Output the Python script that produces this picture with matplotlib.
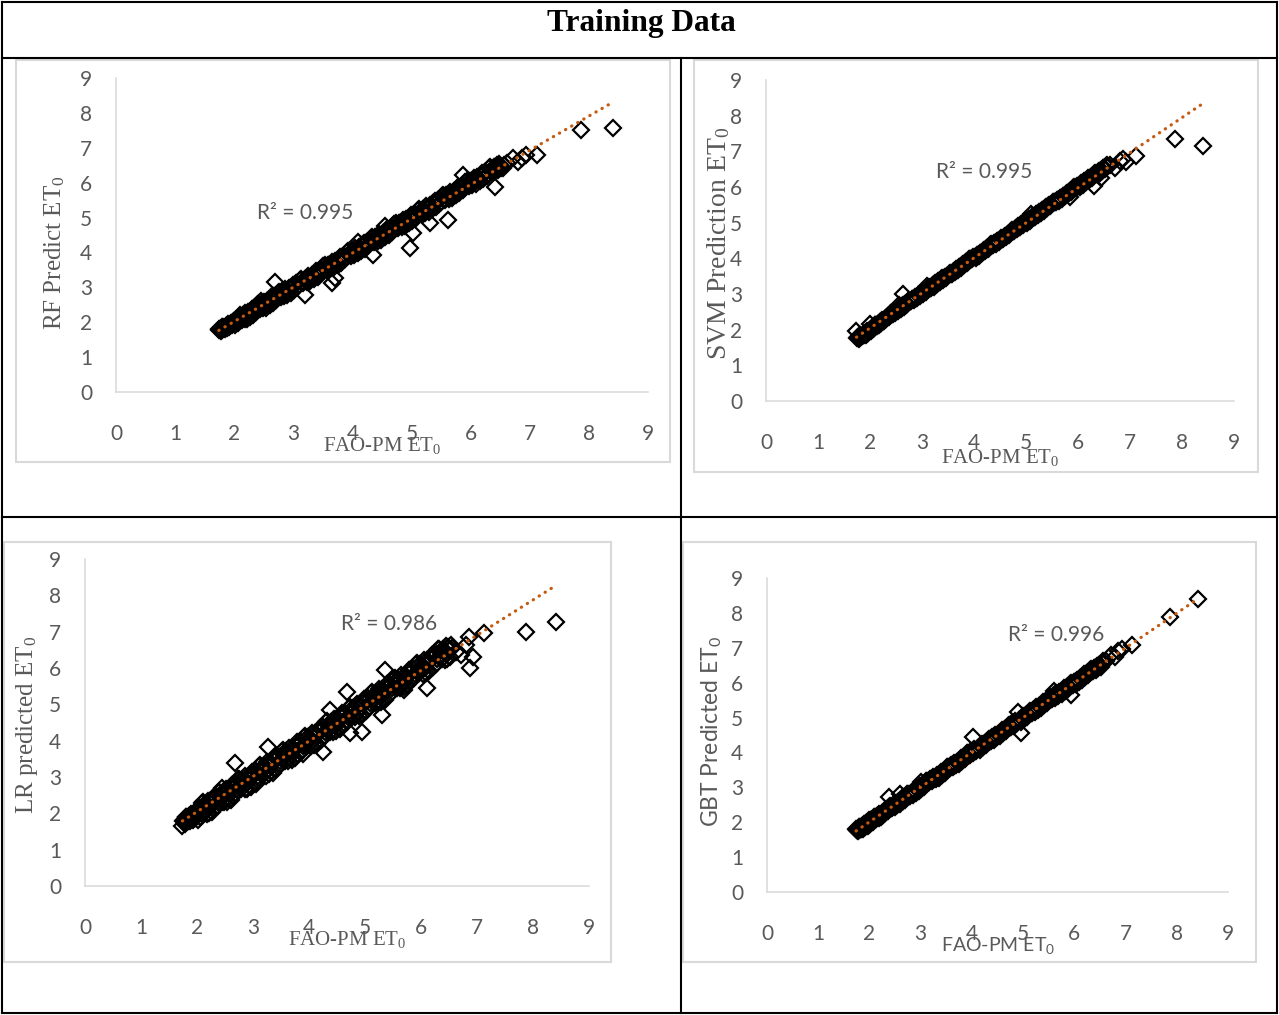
import matplotlib
matplotlib.use("Agg")
import matplotlib.pyplot as plt
import numpy as np
from matplotlib.patches import Rectangle

# ---------------- data ----------------
# FAO-PM ET0 (observed) – main band, shared by all models (two interleaved sets)
x_main = [
    1.74, 1.76, 1.79, 1.81, 1.84, 1.87, 1.90, 1.92, 1.95, 1.98,
    2.01, 2.04, 2.07, 2.10, 2.13, 2.16, 2.19, 2.22, 2.25, 2.28,
    2.31, 2.34, 2.37, 2.40, 2.44, 2.47, 2.51, 2.54, 2.58, 2.61,
    2.65, 2.68, 2.72, 2.75, 2.79, 2.83, 2.86, 2.90, 2.94, 2.97,
    3.01, 3.05, 3.09, 3.13, 3.17, 3.21, 3.25, 3.29, 3.33, 3.37,
    3.41, 3.45, 3.49, 3.53, 3.57, 3.61, 3.65, 3.69, 3.73, 3.77,
    3.81, 3.85, 3.89, 3.93, 3.97, 4.01, 4.05, 4.09, 4.13, 4.17,
    4.21, 4.25, 4.29, 4.33, 4.37, 4.41, 4.45, 4.49, 4.53, 4.57,
    4.61, 4.65, 4.69, 4.73, 4.77, 4.81, 4.85, 4.89, 4.93, 4.97,
    5.01, 5.05, 5.09, 5.13, 5.17, 5.21, 5.25, 5.29, 5.33, 5.37,
    5.41, 5.45, 5.49, 5.53, 5.57, 5.61, 5.65, 5.69, 5.73, 5.77,
    5.81, 5.85, 5.89, 5.93, 5.97, 6.01, 6.05, 6.09, 6.13, 6.17,
    6.21, 6.25, 6.29, 6.33, 6.37, 6.41, 6.44, 6.47, 6.50, 6.54,
]
x_mid = [
    1.75, 1.78, 1.80, 1.83, 1.86, 1.88, 1.91, 1.94, 1.97, 2.00,
    2.03, 2.06, 2.09, 2.12, 2.15, 2.18, 2.21, 2.24, 2.27, 2.30,
    2.33, 2.36, 2.39, 2.42, 2.46, 2.49, 2.53, 2.56, 2.60, 2.63,
    2.67, 2.70, 2.74, 2.77, 2.81, 2.85, 2.88, 2.92, 2.96, 2.99,
    3.03, 3.07, 3.11, 3.15, 3.19, 3.23, 3.27, 3.31, 3.35, 3.39,
    3.43, 3.47, 3.51, 3.55, 3.59, 3.63, 3.67, 3.71, 3.75, 3.79,
    3.83, 3.87, 3.91, 3.95, 3.99, 4.03, 4.07, 4.11, 4.15, 4.19,
    4.23, 4.27, 4.31, 4.35, 4.39, 4.43, 4.47, 4.51, 4.55, 4.59,
    4.63, 4.67, 4.71, 4.75, 4.79, 4.83, 4.87, 4.91, 4.95, 4.99,
    5.03, 5.07, 5.11, 5.15, 5.19, 5.23, 5.27, 5.31, 5.35, 5.39,
    5.43, 5.47, 5.51, 5.55, 5.59, 5.63, 5.67, 5.71, 5.75, 5.79,
    5.83, 5.87, 5.91, 5.95, 5.99, 6.03, 6.07, 6.11, 6.15, 6.19,
    6.23, 6.27, 6.31, 6.35, 6.39, 6.42, 6.45, 6.48, 6.52, 6.56,
]
x_high = [6.62, 6.72, 6.80, 6.86, 6.93, 7.12, 7.87, 8.41]

rf_main = [
    1.80, 1.80, 1.78, 1.86, 1.81, 1.88, 1.94, 1.87, 1.95, 2.01,
    1.91, 2.10, 2.04, 2.21, 2.07, 2.18, 2.27, 2.10, 2.25, 2.33,
    2.21, 2.40, 2.34, 2.51, 2.38, 2.49, 2.59, 2.42, 2.58, 2.66,
    2.55, 2.74, 2.69, 2.86, 2.73, 2.85, 2.94, 2.78, 2.94, 3.02,
    2.91, 3.11, 3.06, 3.24, 3.11, 3.23, 3.33, 3.17, 3.33, 3.42,
    3.31, 3.51, 3.46, 3.64, 3.51, 3.63, 3.73, 3.57, 3.73, 3.82,
    3.71, 3.91, 3.86, 4.04, 3.91, 4.03, 4.13, 3.97, 4.13, 4.22,
    4.11, 4.31, 4.26, 4.44, 4.31, 4.43, 4.53, 4.37, 4.53, 4.62,
    4.51, 4.71, 4.66, 4.84, 4.71, 4.83, 4.93, 4.77, 4.93, 5.02,
    4.91, 5.11, 5.06, 5.24, 5.11, 5.23, 5.33, 5.17, 5.33, 5.42,
    5.31, 5.51, 5.46, 5.64, 5.51, 5.63, 5.73, 5.57, 5.73, 5.82,
    5.71, 5.91, 5.86, 6.04, 5.91, 6.03, 6.13, 5.97, 6.13, 6.22,
    6.11, 6.31, 6.26, 6.44, 6.31, 6.43, 6.50, 6.35, 6.47, 6.42,
]
rf_mid = [
    1.77, 1.76, 1.85, 1.83, 1.89, 1.83, 1.89, 1.97, 1.92, 2.04,
    2.06, 1.99, 2.19, 2.11, 2.21, 2.09, 2.18, 2.29, 2.16, 2.38,
    2.36, 2.29, 2.49, 2.41, 2.52, 2.40, 2.50, 2.61, 2.49, 2.71,
    2.70, 2.63, 2.84, 2.76, 2.87, 2.76, 2.85, 2.97, 2.85, 3.07,
    3.06, 3.00, 3.21, 3.14, 3.25, 3.14, 3.24, 3.36, 3.24, 3.47,
    3.46, 3.40, 3.61, 3.54, 3.65, 3.54, 3.64, 3.76, 3.64, 3.87,
    3.86, 3.80, 4.01, 3.94, 4.05, 3.94, 4.04, 4.16, 4.04, 4.27,
    4.26, 4.20, 4.41, 4.34, 4.45, 4.34, 4.44, 4.56, 4.44, 4.67,
    4.66, 4.60, 4.81, 4.74, 4.85, 4.74, 4.84, 4.96, 4.84, 5.07,
    5.06, 5.00, 5.21, 5.14, 5.25, 5.14, 5.24, 5.36, 5.24, 5.47,
    5.46, 5.40, 5.61, 5.54, 5.65, 5.54, 5.64, 5.76, 5.64, 5.87,
    5.86, 5.80, 6.01, 5.94, 6.05, 5.94, 6.04, 6.16, 6.04, 6.27,
    6.26, 6.20, 6.41, 6.34, 6.45, 6.33, 6.42, 6.53, 6.41, 6.50,
]
rf_high = [6.55, 6.70, 6.58, 6.72, 6.80, 6.78, 7.52, 7.58]
rf_dev_x = [2.69, 3.20, 3.65, 3.70, 4.35, 4.55, 4.97, 5.03, 5.31, 5.62, 5.87, 6.41, 2.45, 4.10]
rf_dev_y = [3.15, 2.78, 3.12, 3.28, 3.93, 4.75, 4.13, 4.55, 4.84, 4.93, 6.22, 5.87, 2.60, 4.30]

svm_main = [
    1.95, 1.80, 1.80, 1.84, 1.82, 1.86, 1.90, 1.86, 1.93, 1.96,
    1.96, 2.04, 2.04, 2.12, 2.10, 2.17, 2.22, 2.18, 2.25, 2.30,
    2.30, 2.38, 2.38, 2.46, 2.44, 2.50, 2.56, 2.52, 2.60, 2.65,
    2.64, 2.72, 2.73, 2.81, 2.79, 2.86, 2.91, 2.88, 2.96, 3.01,
    3.00, 3.09, 3.10, 3.19, 3.17, 3.24, 3.30, 3.27, 3.35, 3.41,
    3.40, 3.49, 3.50, 3.59, 3.57, 3.64, 3.70, 3.67, 3.75, 3.81,
    3.80, 3.89, 3.90, 3.99, 3.97, 4.04, 4.10, 4.07, 4.15, 4.21,
    4.20, 4.29, 4.30, 4.39, 4.37, 4.44, 4.50, 4.47, 4.55, 4.61,
    4.60, 4.69, 4.70, 4.79, 4.77, 4.84, 4.90, 4.87, 4.95, 5.01,
    5.00, 5.09, 5.10, 5.19, 5.17, 5.24, 5.30, 5.27, 5.35, 5.41,
    5.40, 5.49, 5.50, 5.59, 5.57, 5.64, 5.70, 5.67, 5.75, 5.81,
    5.80, 5.89, 5.90, 5.99, 5.97, 6.04, 6.10, 6.07, 6.15, 6.21,
    6.20, 6.29, 6.30, 6.39, 6.37, 6.44, 6.49, 6.45, 6.52, 6.58,
]
svm_mid = [
    1.76, 1.75, 1.82, 1.81, 1.86, 1.84, 1.88, 1.95, 1.92, 2.00,
    2.04, 2.03, 2.13, 2.12, 2.17, 2.14, 2.20, 2.27, 2.24, 2.33,
    2.36, 2.35, 2.45, 2.44, 2.50, 2.47, 2.54, 2.61, 2.59, 2.68,
    2.70, 2.69, 2.80, 2.79, 2.85, 2.83, 2.89, 2.97, 2.95, 3.04,
    3.06, 3.06, 3.17, 3.17, 3.23, 3.21, 3.28, 3.36, 3.34, 3.44,
    3.46, 3.46, 3.57, 3.57, 3.63, 3.61, 3.68, 3.76, 3.74, 3.84,
    3.86, 3.86, 3.97, 3.97, 4.03, 4.01, 4.08, 4.16, 4.14, 4.24,
    4.26, 4.26, 4.37, 4.37, 4.43, 4.41, 4.48, 4.56, 4.54, 4.64,
    4.66, 4.66, 4.77, 4.77, 4.83, 4.81, 4.88, 4.96, 4.94, 5.04,
    5.06, 5.06, 5.17, 5.17, 5.23, 5.21, 5.28, 5.36, 5.34, 5.44,
    5.46, 5.46, 5.57, 5.57, 5.63, 5.61, 5.68, 5.76, 5.74, 5.84,
    5.86, 5.86, 5.97, 5.97, 6.03, 6.01, 6.08, 6.16, 6.14, 6.24,
    6.26, 6.26, 6.37, 6.37, 6.43, 6.40, 6.46, 6.53, 6.51, 6.61,
]
svm_high = [6.62, 6.53, 6.72, 6.78, 6.70, 6.87, 7.35, 7.15]
svm_dev_x = [2.55, 2.63, 3.10, 5.10, 6.30, 6.45, 5.85, 2.00]
svm_dev_y = [2.70, 3.00, 3.22, 5.25, 6.03, 6.25, 5.72, 2.15]

lr_main = [
    1.65, 1.82, 1.76, 1.91, 1.78, 1.89, 1.98, 1.81, 1.95, 2.02,
    1.83, 2.16, 2.02, 2.30, 2.01, 2.20, 2.35, 2.00, 2.25, 2.36,
    2.13, 2.46, 2.32, 2.60, 2.32, 2.51, 2.67, 2.32, 2.58, 2.69,
    2.47, 2.80, 2.67, 2.95, 2.67, 2.87, 3.02, 2.68, 2.94, 3.05,
    2.83, 3.17, 3.04, 3.33, 3.05, 3.25, 3.41, 3.07, 3.33, 3.45,
    3.23, 3.57, 3.44, 3.73, 3.45, 3.65, 3.81, 3.47, 3.73, 3.85,
    3.63, 3.97, 3.84, 4.13, 3.85, 4.05, 4.21, 3.87, 4.13, 4.25,
    4.03, 4.37, 4.24, 4.53, 4.25, 4.45, 4.61, 4.27, 4.53, 4.65,
    4.43, 4.77, 4.64, 4.93, 4.65, 4.85, 5.01, 4.67, 4.93, 5.05,
    4.83, 5.17, 5.04, 5.33, 5.05, 5.25, 5.41, 5.07, 5.33, 5.45,
    5.23, 5.57, 5.44, 5.73, 5.45, 5.65, 5.81, 5.47, 5.73, 5.85,
    5.63, 5.97, 5.84, 6.13, 5.85, 6.05, 6.21, 5.87, 6.13, 6.25,
    6.03, 6.37, 6.24, 6.53, 6.25, 6.45, 6.60, 6.25, 6.50, 6.62,
]
lr_mid = [
    1.78, 1.71, 1.90, 1.82, 1.92, 1.79, 1.88, 1.99, 1.86, 2.08,
    2.09, 1.91, 2.29, 2.10, 2.27, 1.99, 2.14, 2.34, 2.04, 2.46,
    2.39, 2.21, 2.59, 2.40, 2.58, 2.30, 2.46, 2.66, 2.37, 2.79,
    2.73, 2.55, 2.94, 2.75, 2.93, 2.66, 2.81, 3.02, 2.73, 3.15,
    3.09, 2.92, 3.31, 3.13, 3.31, 3.04, 3.20, 3.41, 3.12, 3.55,
    3.49, 3.32, 3.71, 3.53, 3.71, 3.44, 3.60, 3.81, 3.52, 3.95,
    3.89, 3.72, 4.11, 3.93, 4.11, 3.84, 4.00, 4.21, 3.92, 4.35,
    4.29, 4.12, 4.51, 4.33, 4.51, 4.24, 4.40, 4.61, 4.32, 4.75,
    4.69, 4.52, 4.91, 4.73, 4.91, 4.64, 4.80, 5.01, 4.72, 5.15,
    5.09, 4.92, 5.31, 5.13, 5.31, 5.04, 5.20, 5.41, 5.12, 5.55,
    5.49, 5.32, 5.71, 5.53, 5.71, 5.44, 5.60, 5.81, 5.52, 5.95,
    5.89, 5.72, 6.11, 5.93, 6.11, 5.84, 6.00, 6.21, 5.92, 6.35,
    6.29, 6.12, 6.51, 6.33, 6.51, 6.23, 6.38, 6.58, 6.29, 6.55,
]
lr_high = [6.45, 6.36, 6.62, 6.86, 6.30, 6.96, 6.99, 7.27]
lr_dev_x = [2.68, 3.27, 4.38, 4.68, 5.36, 4.25, 4.73, 4.95, 5.30, 6.10, 6.25, 6.88, 2.45, 3.05, 3.90, 5.70]
lr_dev_y = [3.39, 3.83, 4.84, 5.34, 5.95, 3.69, 4.20, 4.24, 4.70, 5.45, 6.41, 6.00, 2.70, 2.80, 3.62, 5.40]

gbt_main = [
    1.80, 1.79, 1.77, 1.87, 1.81, 1.88, 1.94, 1.86, 1.95, 2.00,
    1.96, 2.07, 2.05, 2.16, 2.10, 2.17, 2.23, 2.16, 2.25, 2.30,
    2.26, 2.37, 2.35, 2.46, 2.41, 2.48, 2.55, 2.48, 2.58, 2.63,
    2.60, 2.71, 2.70, 2.81, 2.76, 2.84, 2.90, 2.84, 2.94, 2.99,
    2.96, 3.08, 3.07, 3.19, 3.14, 3.22, 3.29, 3.23, 3.33, 3.39,
    3.36, 3.48, 3.47, 3.59, 3.54, 3.62, 3.69, 3.63, 3.73, 3.79,
    3.76, 3.88, 3.87, 3.99, 3.94, 4.02, 4.09, 4.03, 4.13, 4.19,
    4.16, 4.28, 4.27, 4.39, 4.34, 4.42, 4.49, 4.43, 4.53, 4.59,
    4.56, 4.68, 4.67, 4.79, 4.74, 4.82, 4.89, 4.83, 4.93, 4.99,
    4.96, 5.08, 5.07, 5.19, 5.14, 5.22, 5.29, 5.23, 5.33, 5.39,
    5.36, 5.48, 5.47, 5.59, 5.54, 5.62, 5.69, 5.63, 5.73, 5.79,
    5.76, 5.88, 5.87, 5.99, 5.94, 6.02, 6.09, 6.03, 6.13, 6.19,
    6.16, 6.28, 6.27, 6.39, 6.34, 6.42, 6.48, 6.41, 6.50, 6.56,
]
gbt_mid = [
    1.77, 1.76, 1.86, 1.82, 1.90, 1.82, 1.89, 1.97, 1.90, 2.05,
    2.05, 2.01, 2.15, 2.11, 2.19, 2.12, 2.19, 2.27, 2.20, 2.35,
    2.35, 2.31, 2.45, 2.41, 2.50, 2.43, 2.51, 2.59, 2.53, 2.68,
    2.69, 2.65, 2.80, 2.76, 2.85, 2.79, 2.86, 2.95, 2.89, 3.04,
    3.05, 3.02, 3.17, 3.14, 3.23, 3.17, 3.25, 3.34, 3.28, 3.44,
    3.45, 3.42, 3.57, 3.54, 3.63, 3.57, 3.65, 3.74, 3.68, 3.84,
    3.85, 3.82, 3.97, 3.94, 4.03, 3.97, 4.05, 4.14, 4.08, 4.24,
    4.25, 4.22, 4.37, 4.34, 4.43, 4.37, 4.45, 4.54, 4.48, 4.64,
    4.65, 4.62, 4.77, 4.74, 4.83, 4.77, 4.85, 4.94, 4.88, 5.04,
    5.05, 5.02, 5.17, 5.14, 5.23, 5.17, 5.25, 5.34, 5.28, 5.44,
    5.45, 5.42, 5.57, 5.54, 5.63, 5.57, 5.65, 5.74, 5.68, 5.84,
    5.85, 5.82, 5.97, 5.94, 6.03, 5.97, 6.05, 6.14, 6.08, 6.24,
    6.25, 6.22, 6.37, 6.34, 6.43, 6.36, 6.43, 6.51, 6.45, 6.61,
]
gbt_high = [6.62, 6.80, 6.73, 6.90, 6.96, 7.08, 7.87, 8.40]
gbt_dev_x = [2.38, 4.02, 4.95, 5.93, 4.90, 3.00, 5.60, 2.60]
gbt_dev_y = [2.73, 4.45, 4.56, 5.66, 5.15, 3.15, 5.75, 2.80]

r2_labels = ["R² = 0.995", "R² = 0.995", "R² = 0.986", "R² = 0.996"]
y_titles = ["RF Predict ET", "SVM Prediction ET", "LR predicted ET", "GBT Predicted ET"]
x_title = "FAO-PM ET"
ticks = [0, 1, 2, 3, 4, 5, 6, 7, 8, 9]
main_title = "Training Data"

# ---------------- figure ----------------
W, H = 1279, 1015
fig = plt.figure(figsize=(W / 100, H / 100), dpi=100)
bg = fig.add_axes([0, 0, 1, 1])
bg.set_xlim(0, W)
bg.set_ylim(H, 0)
bg.axis("off")

# table grid
lw_tab = 1.5
for xs, ys in [([2, 1277], [2, 2]), ([2, 1277], [1013, 1013]), ([2, 2], [2, 1013]),
               ([1277, 1277], [2, 1013]), ([2, 1277], [58, 58]), ([2, 1277], [517, 517]),
               ([681, 681], [58, 1013])]:
    bg.plot(xs, ys, color="black", lw=lw_tab, solid_capstyle="projecting")

bg.text(641, 23, main_title, ha="center", va="center", fontfamily="Liberation Serif",
        fontweight="bold", fontsize=22.6, color="black")

GRAY = "#595959"
AXC = "#d9d9d9"
TREND = "#C55A11"

panels = [
    dict(box=(16, 60, 670, 462), ax=(116, 78, 648, 392), xl=(382, 445), yl=(55, 253),
         r2=(257, 213), serif_x=True, serif_y=True, ysz=18,
         ym=rf_main, y2=rf_mid, yh=rf_high, dx=rf_dev_x, dy=rf_dev_y),
    dict(box=(694, 60, 1258, 472), ax=(766, 80, 1234, 401), xl=(1000, 458), yl=(719, 243),
         r2=(936, 172), serif_x=True, serif_y=True, ysz=20,
         ym=svm_main, y2=svm_mid, yh=svm_high, dx=svm_dev_x, dy=svm_dev_y),
    dict(box=(4, 542, 611, 962), ax=(85, 559, 589, 886), xl=(347, 940), yl=(27, 725),
         r2=(341, 624), serif_x=True, serif_y=True, ysz=18,
         ym=lr_main, y2=lr_mid, yh=lr_high, dx=lr_dev_x, dy=lr_dev_y),
    dict(box=(683, 542, 1256, 962), ax=(767, 578, 1228, 892), xl=(998, 946), yl=(712, 732),
         r2=(1008, 635), serif_x=False, serif_y=False, ysz=16.5,
         ym=gbt_main, y2=gbt_mid, yh=gbt_high, dx=gbt_dev_x, dy=gbt_dev_y),
]

for i, p in enumerate(panels):
    bx0, by0, bx1, by1 = p["box"]
    bg.add_patch(Rectangle((bx0, by0), bx1 - bx0, by1 - by0, fill=False,
                           edgecolor=AXC, lw=1.5))
    l, t, r, b = p["ax"]
    ax = fig.add_axes([l / W, 1 - b / H, (r - l) / W, (b - t) / H])
    ax.set_facecolor("none")
    xs = np.array(x_main + x_mid + x_high + p["dx"], dtype=float)
    ys = np.array(p["ym"] + p["y2"] + p["yh"] + p["dy"], dtype=float)
    ax.plot(xs, ys, linestyle="none", marker="D", markersize=8.2, mfc="none",
            mec="black", mew=1.6, zorder=3, clip_on=False)
    coef = np.polyfit(xs, ys, 1)
    tx = np.array([xs.min(), xs.max()])
    ax.plot(tx, np.polyval(coef, tx), color=TREND, lw=2.3, linestyle=(0, (0.1, 2.1)),
            dash_capstyle="round", zorder=4, clip_on=False)
    ax.set_xlim(0, 9)
    ax.set_ylim(0, 9)
    ax.set_xticks(ticks)
    ax.set_yticks(ticks)
    ax.set_xticklabels([str(v) for v in ticks])
    ax.set_yticklabels([str(v) for v in ticks])
    for s in ["top", "right"]:
        ax.spines[s].set_visible(False)
    for s in ["left", "bottom"]:
        ax.spines[s].set_color(AXC)
        ax.spines[s].set_linewidth(1.1)
    ax.tick_params(axis="both", length=0, labelsize=15, labelcolor=GRAY)
    ax.tick_params(axis="x", pad=23)
    ax.tick_params(axis="y", pad=17)
    for lab in ax.get_xticklabels() + ax.get_yticklabels():
        lab.set_fontfamily("Lato")

    xfam = "Liberation Serif" if p["serif_x"] else "Lato"
    yfam = "Liberation Serif" if p["serif_y"] else "Lato"
    xsz = 15 if p["serif_x"] else 14
    ax.set_xlabel(x_title + r"$\mathregular{_0}$", fontfamily=xfam, fontsize=xsz, color=GRAY)
    ax.set_ylabel(y_titles[i] + r"$\mathregular{_0}$", fontfamily=yfam, fontsize=p["ysz"], color=GRAY)
    ax.xaxis.set_label_coords(p["xl"][0], p["xl"][1], transform=bg.transData)
    ax.yaxis.set_label_coords(p["yl"][0], p["yl"][1], transform=bg.transData)
    ax.xaxis.label.set_va("center")
    ax.yaxis.label.set_va("center")
    ax.text(p["r2"][0], p["r2"][1], r2_labels[i], transform=bg.transData, ha="left",
            va="center", fontfamily="Lato", fontsize=15, color=GRAY, zorder=5)

fig.savefig("out.png", dpi=100)
